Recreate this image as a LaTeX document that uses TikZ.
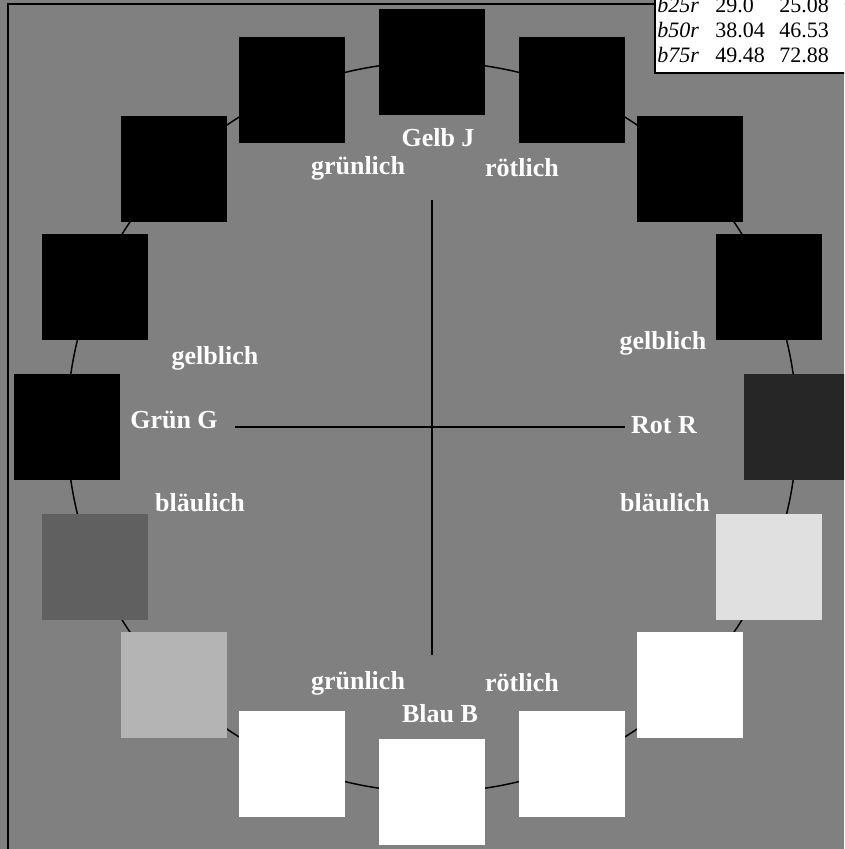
\documentclass[tikz,border=0pt]{standalone}
\usepackage{fontspec}
\setmainfont{Liberation Serif}
\usepackage{xcolor}
\usetikzlibrary{positioning}

\definecolor{bggray}{gray}{0.502}
\definecolor{rotdark}{gray}{0.15}
\definecolor{paleg}{gray}{0.88}
\definecolor{midg}{gray}{0.706}
\definecolor{darkg}{gray}{0.376}

\begin{document}
\begin{tikzpicture}[
    x=0.75pt, y=-0.75pt,
    sq/.style={minimum size=79.5pt, inner sep=0pt, fill=#1},
    lbl/.style={text=white, font=\fontsize{19.5}{22}\selectfont\bfseries, inner sep=1pt},
    tab/.style={anchor=base west, font=\fontsize{16.5}{19}\selectfont, inner sep=0pt},
    ax/.style={line width=1.1pt}
  ]
  \useasboundingbox (0,0) rectangle (844,849);
  \clip (0,0) rectangle (844,849);
  \fill[bggray] (0,0) rectangle (844,849);
  % outer frame
  \draw[line width=1.5pt] (8,4) rectangle (1200,1200);
  % hue circle with samples
  \coordinate (ctr) at (432,427);
  \draw[ax] (ctr) circle [radius=273.75pt];
  \foreach \i/\c in {0/black,1/black,2/black,3/black,4/rotdark,5/paleg,6/white,7/white,
                     8/white,9/white,10/midg,11/darkg,12/black,13/black,14/black,15/black}
    \node[sq=\c] (sq\i) at ({432+365*sin(22.5*\i)},{427-365*cos(22.5*\i)}) {};
  % labels
  \node[lbl] (gelb) at (438,138) {Gelb J};
  \node[lbl] (blau) at (440,714) {Blau B};
  \node[lbl] (gruen) at (174,420) {Grün G};
  \node[lbl] (rot) at (664,425) {Rot R};
  \node[lbl] (gntl) at (358,168) {grünlich};
  \node[lbl] (rttl) at (522,168) {rötlich};
  \node[lbl] (gnbl) at (358,683) {grünlich};
  \node[lbl] (rtbl) at (522,683) {rötlich};
  \node[lbl] (gbl) at (215,358) {gelblich};
  \node[lbl] (gbr) at (663,343) {gelblich};
  \node[lbl] (blul) at (200,503) {bläulich};
  \node[lbl] (blur) at (665,503) {bläulich};
  % axes
  \coordinate (axl) at (235,427);
  \coordinate (axr) at (625,427);
  \coordinate (axt) at (432,200);
  \coordinate (axb) at (432,655);
  \draw[ax] (axl) -- (axr);
  \draw[ax] (axt) -- (axb);
  % table
  \draw[fill=white, line width=0.8pt] (655,-100) rectangle (1000,73);
  \foreach \n/\a/\b/\y in {25/29.0/25.08/13, 50/38.04/46.53/38, 75/49.48/72.88/63} {
    \node[tab] (k\n) at (657,\y) {\textit{b\n r}};
    \node[tab] (a\n) at (715,\y) {\a};
    \node[tab] (b\n) at (779,\y) {\b};
  }
\end{tikzpicture}
\end{document}
